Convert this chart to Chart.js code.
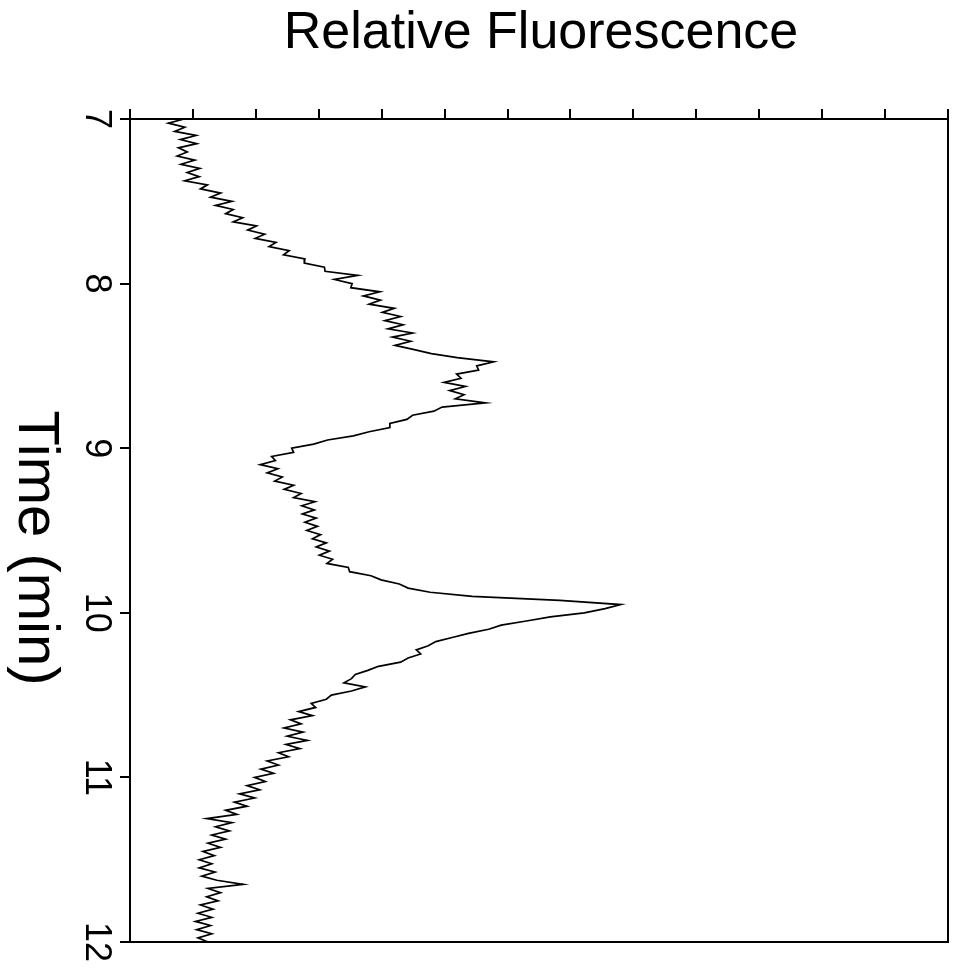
<!DOCTYPE html>
<html>
<head>
<meta charset="utf-8">
<script src="https://cdn.jsdelivr.net/npm/chart.js@4.4.1/dist/chart.umd.min.js"></script>
<style>
  html, body { margin: 0; padding: 0; background: #fff; }
  canvas { display: block; }
</style>
</head>
<body>
<canvas id="c" width="955" height="974"></canvas>
<script>
// Time (min) of each sample
const timeMin = [
  7.000,7.025,7.050,7.075,7.100,7.125,7.150,7.175,7.200,7.225,
  7.250,7.275,7.300,7.325,7.350,7.375,7.400,7.425,7.450,7.475,
  7.500,7.525,7.550,7.575,7.600,7.625,7.650,7.675,7.700,7.725,
  7.750,7.775,7.800,7.825,7.850,7.875,7.900,7.925,7.950,7.975,
  8.000,8.025,8.050,8.075,8.100,8.125,8.150,8.175,8.200,8.225,
  8.250,8.275,8.300,8.325,8.350,8.375,8.400,8.425,8.450,8.475,
  8.500,8.525,8.550,8.575,8.600,8.625,8.650,8.675,8.700,8.725,
  8.750,8.775,8.800,8.825,8.850,8.875,8.900,8.925,8.950,8.975,
  9.000,9.025,9.050,9.075,9.100,9.125,9.150,9.175,9.200,9.225,
  9.250,9.275,9.300,9.325,9.350,9.375,9.400,9.425,9.450,9.475,
  9.500,9.525,9.550,9.575,9.600,9.625,9.650,9.675,9.700,9.725,
  9.750,9.775,9.800,9.825,9.850,9.875,9.900,9.925,9.950,9.975,
  10.000,10.025,10.050,10.075,10.100,10.125,10.150,10.175,10.200,10.225,
  10.250,10.275,10.300,10.325,10.350,10.375,10.400,10.425,10.450,10.475,
  10.500,10.525,10.550,10.575,10.600,10.625,10.650,10.675,10.700,10.725,
  10.750,10.775,10.800,10.825,10.850,10.875,10.900,10.925,10.950,10.975,
  11.000,11.025,11.050,11.075,11.100,11.125,11.150,11.175,11.200,11.225,
  11.250,11.275,11.300,11.325,11.350,11.375,11.400,11.425,11.450,11.475,
  11.500,11.525,11.550,11.575,11.600,11.625,11.650,11.675,11.700,11.725,
  11.750,11.775,11.800,11.825,11.850,11.875,11.900,11.925,11.950,11.975,
  12.000
];

// Relative fluorescence (arbitrary units)
const fluorescence = [
  0.86,0.61,0.87,0.71,1.05,0.80,1.06,0.77,0.91,0.75,
  1.03,0.81,1.11,0.91,1.10,0.87,1.23,1.12,1.44,1.28,
  1.62,1.36,1.64,1.52,1.79,1.64,2.01,1.87,2.14,1.99,
  2.32,2.21,2.53,2.44,2.78,2.77,3.09,3.10,3.62,3.25,
  3.53,3.51,3.97,3.71,3.98,3.80,4.20,4.01,4.30,4.05,
  4.34,4.10,4.49,4.17,4.46,4.21,4.50,4.79,5.20,5.78,
  5.51,5.54,5.19,5.26,4.99,5.33,5.08,5.31,5.17,5.65,
  4.96,4.83,4.49,4.40,4.13,4.13,3.80,3.55,3.14,2.92,
  2.57,2.60,2.25,2.31,2.07,2.35,2.18,2.42,2.30,2.60,
  2.45,2.72,2.60,2.94,2.73,2.93,2.74,2.96,2.78,2.98,
  2.81,3.03,2.90,3.12,2.96,3.17,3.01,3.22,3.13,3.47,
  3.49,3.83,3.99,4.28,4.42,4.77,5.44,6.83,7.80,7.55,
  7.22,6.68,6.30,5.90,5.70,5.38,5.12,4.86,4.74,4.55,
  4.62,4.42,4.30,3.95,3.78,3.58,3.52,3.40,3.74,3.52,
  3.20,3.12,2.88,2.95,2.68,2.90,2.55,2.72,2.45,2.75,
  2.50,2.82,2.48,2.70,2.36,2.52,2.18,2.36,2.08,2.28,
  1.98,2.15,1.86,2.06,1.74,1.98,1.66,1.86,1.52,1.70,
  1.22,1.62,1.36,1.58,1.30,1.52,1.24,1.44,1.16,1.34,
  1.10,1.30,1.10,1.35,1.14,1.38,1.80,1.24,1.44,1.22,
  1.40,1.12,1.32,1.08,1.30,1.04,1.28,1.06,1.30,1.08,
  1.24
];

const timeTicks = [7, 8, 9, 10, 11, 12];
const fluorRange = [0, 13];
const titleText = 'Relative Fluorescence';
const timeTitle = 'Time (min)';

const FONT = '"Liberation Sans", Arial, Helvetica, sans-serif';

const points = timeMin.map((t, i) => ({ x: fluorescence[i], y: t }));

const textPlugin = {
  id: 'rotatedText',
  afterDraw(chart) {
    const ctx = chart.ctx;
    const ca = chart.chartArea;
    const ys = chart.scales.y;
    ctx.save();
    ctx.fillStyle = '#000';
    // Title (horizontal, above plot)
    ctx.font = '52px ' + FONT;
    ctx.textAlign = 'center';
    ctx.textBaseline = 'alphabetic';
    ctx.fillText(titleText, (ca.left + ca.right) / 2 + 2, 48);
    // Time tick labels, rotated 90deg clockwise
    ctx.font = '36px ' + FONT;
    timeTicks.forEach(v => {
      const py = ys.getPixelForValue(v);
      ctx.save();
      ctx.translate(86, py);
      ctx.rotate(Math.PI / 2);
      ctx.textAlign = 'center';
      ctx.textBaseline = 'alphabetic';
      ctx.fillText(String(v), 0, 0);
      ctx.restore();
    });
    // Time axis title
    ctx.font = '58px ' + FONT;
    ctx.save();
    ctx.translate(19, 548);
    ctx.rotate(Math.PI / 2);
    ctx.textAlign = 'center';
    ctx.textBaseline = 'alphabetic';
    ctx.fillText(timeTitle, 0, 0);
    ctx.restore();
    ctx.restore();
  }
};

new Chart(document.getElementById('c'), {
  type: 'scatter',
  data: {
    datasets: [{
      data: points,
      showLine: true,
      borderColor: '#000',
      borderWidth: 1.7,
      pointRadius: 0,
      tension: 0
    }]
  },
  options: {
    responsive: false,
    animation: false,
    devicePixelRatio: 1,
    layout: { padding: { left: 120, top: 109, right: 7, bottom: 32 } },
    plugins: { legend: { display: false }, tooltip: { enabled: false }, title: { display: false } },
    scales: {
      x: {
        type: 'linear', position: 'top',
        min: fluorRange[0], max: fluorRange[1],
        ticks: { display: false, stepSize: 1 },
        grid: { drawOnChartArea: false, drawTicks: true, tickLength: 10, color: '#000', lineWidth: 2 },
        border: { display: true, color: '#000', width: 2 }
      },
      y: {
        type: 'linear', position: 'left', reverse: true,
        min: timeTicks[0], max: timeTicks[timeTicks.length - 1],
        ticks: { display: false, stepSize: 1 },
        grid: { drawOnChartArea: false, drawTicks: true, tickLength: 10, color: '#000', lineWidth: 2 },
        border: { display: true, color: '#000', width: 2 }
      },
      x2: {
        type: 'linear', position: 'bottom', min: 0, max: 1,
        ticks: { display: false },
        grid: { display: false, drawTicks: false },
        border: { display: true, color: '#000', width: 2 }
      },
      y2: {
        type: 'linear', position: 'right', min: 0, max: 1,
        ticks: { display: false },
        grid: { display: false, drawTicks: false },
        border: { display: true, color: '#000', width: 2 }
      }
    }
  },
  plugins: [textPlugin]
});
</script>
</body>
</html>
